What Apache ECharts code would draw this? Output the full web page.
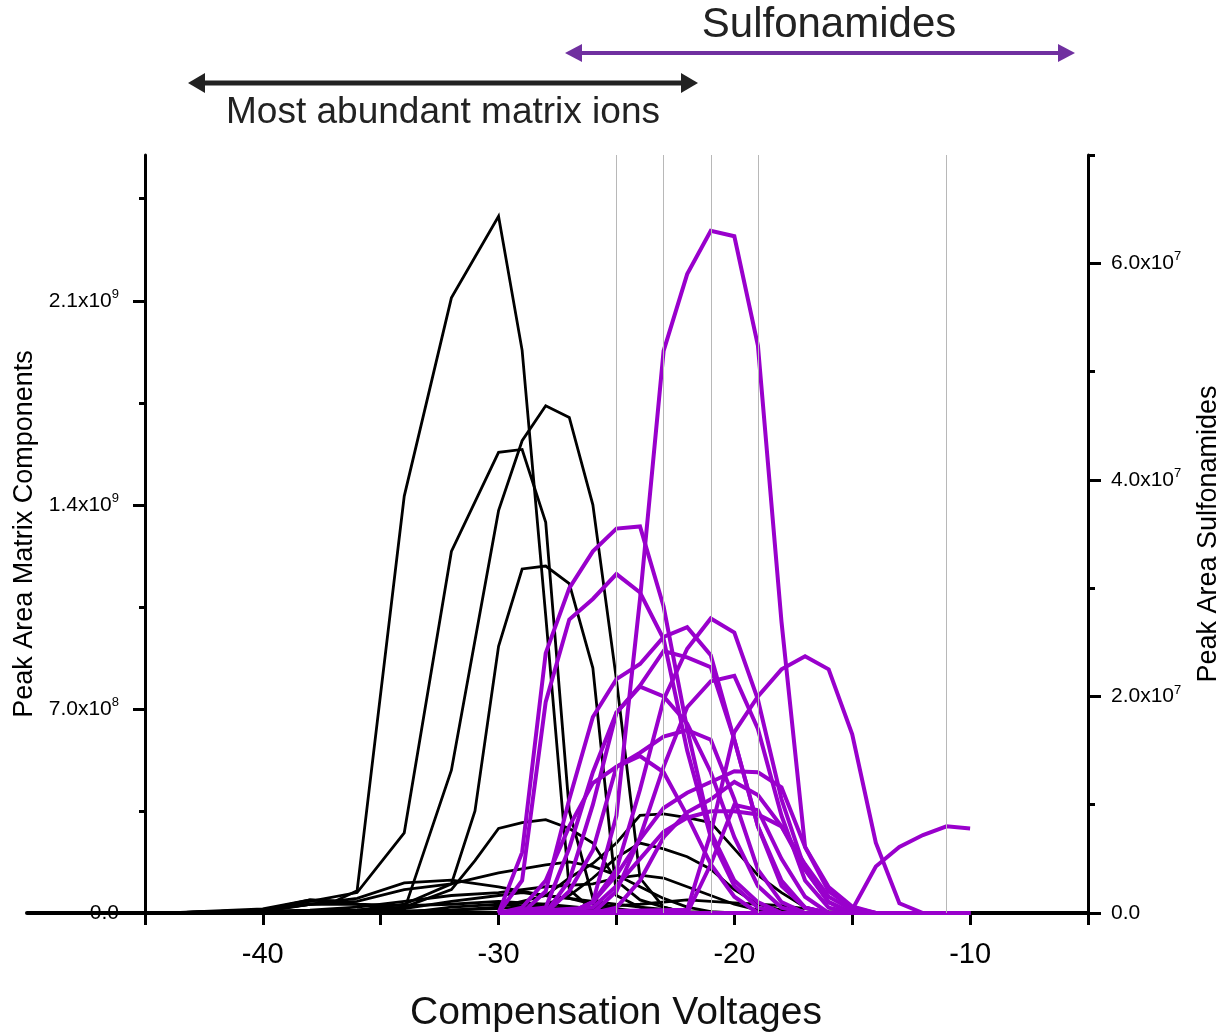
<!DOCTYPE html>
<html>
<head>
<meta charset="utf-8">
<script src="https://cdn.jsdelivr.net/npm/echarts@6/dist/echarts.min.js"></script>
<style>
html,body{margin:0;padding:0;background:#fff;overflow:hidden;}
#chart{width:1220px;height:1033px;}
</style>
</head>
<body>
<div id="chart"></div>
<script>
// ---------- DATA ----------
// Compensation voltage (V) vs peak area. Matrix components in units of 1e8, sulfonamides in units of 1e7.
const MATRIX_UNIT = 1e8;
const SULFA_UNIT = 1e7;

const m01 = [[-50,0],[-44,0],[-40,0.14],[-38,0.45],[-37,0.38],[-36,0.76],[-34,14.3],[-32,21.1],[-30,23.9],[-29,19.3],[-28,10.2],[-27,0.8],[-26,0.1],[-24,0],[-10,0]];
const m02 = [[-50,0],[-44,0],[-40,0.1],[-38,0.3],[-36,0.3],[-34,0.1],[-32,4.9],[-30,13.8],[-29,16.2],[-28,17.4],[-27,17.0],[-26,14.0],[-25,8.0],[-24,1.2],[-23,0.2],[-22,0],[-10,0]];
const m03 = [[-50,0],[-44,0],[-40,0.1],[-38,0.4],[-36,0.7],[-34,2.75],[-32,12.4],[-30,15.8],[-29,15.9],[-28,13.4],[-27,3.5],[-26,0.5],[-25,0.1],[-24,0],[-10,0]];
const m04 = [[-50,0],[-44,0],[-40,0.05],[-36,0.1],[-34,0.3],[-32,1.0],[-31,3.5],[-30,9.15],[-29,11.8],[-28,11.9],[-27,11.3],[-26,8.4],[-25,0.6],[-24,0.2],[-23,0],[-10,0]];
const m05 = [[-50,0],[-44,0],[-40,0.05],[-36,0.1],[-34,0.2],[-32,0.8],[-31,1.8],[-30,2.9],[-29,3.1],[-28,3.2],[-27,2.9],[-26,2.4],[-25,1.1],[-24,0.45],[-23,0.2],[-22,0],[-10,0]];
const m06 = [[-50,0],[-44,0],[-36,0.05],[-32,0.1],[-30,0.2],[-28,0.6],[-27,1.2],[-26,1.7],[-25,2.4],[-24,3.35],[-23,3.4],[-22,3.27],[-21,3.1],[-20,2.2],[-19,1.3],[-18,0.7],[-17,0.2],[-16,0],[-10,0]];
const m07 = [[-50,0],[-44,0],[-34,0.05],[-30,0.15],[-28,0.3],[-27,0.6],[-26,1.2],[-25,1.9],[-24,2.4],[-23,2.2],[-22,1.93],[-21,1.5],[-20,0.8],[-19,0.3],[-18,0.1],[-17,0],[-10,0]];
const m08 = [[-50,0],[-44,0],[-40,0.05],[-38,0.3],[-36,0.4],[-34,0.8],[-32,1.0],[-30,1.38],[-28,1.65],[-27,1.75],[-26,1.6],[-25,1.3],[-24,0.9],[-23,0.5],[-22,0.2],[-21,0.05],[-20,0],[-10,0]];
const m09 = [[-50,0],[-44,0],[-40,0.08],[-38,0.3],[-36,0.5],[-34,1.03],[-32,1.13],[-30,0.9],[-28,0.6],[-26,0.4],[-24,0.2],[-22,0.05],[-20,0],[-10,0]];
const m10 = [[-50,0],[-44,0],[-38,0.1],[-36,0.2],[-34,0.4],[-32,0.6],[-30,0.7],[-28,0.9],[-26,1.0],[-25,1.2],[-24,1.3],[-23,1.2],[-22,0.9],[-21,0.6],[-20,0.3],[-19,0.1],[-18,0],[-10,0]];
const m11 = [[-50,0],[-44,0],[-30,0],[-28,0.1],[-26,0.2],[-24,0.3],[-22,0.45],[-21,0.4],[-20,0.35],[-19,0.3],[-18,0.25],[-17,0.15],[-16,0.05],[-15,0],[-10,0]];
const m12 = [[-50,0],[-44,0],[-40,0.1],[-38,0.45],[-37,0.42],[-36,0.3],[-34,0.25],[-32,0.3],[-30,0.4],[-28,0.3],[-26,0.15],[-24,0.05],[-22,0],[-10,0]];
const m13 = [[-50,0],[-44,0],[-36,0.05],[-34,0.15],[-32,0.4],[-30,0.6],[-29,0.7],[-28,0.6],[-27,0.5],[-26,0.3],[-25,0.15],[-24,0.05],[-23,0],[-10,0]];
const m14 = [[-50,0],[-44,0],[-34,0],[-32,0.2],[-30,0.3],[-28,0.2],[-26,0.1],[-24,0],[-10,0]];

const s01 = [[-30,0],[-27,0],[-26,0.1],[-25,0.9],[-24,2.9],[-23,5.19],[-22,5.9],[-21,6.3],[-20,6.25],[-19,5.24],[-18,2.69],[-17,0.61],[-16,0.24],[-15,0.06],[-14,0],[-10,0]];
const s02 = [[-30,0],[-29,0.56],[-28,2.4],[-27,3.0],[-26,3.34],[-25,3.55],[-24,3.57],[-23,2.83],[-22,1.7],[-21,0.75],[-20,0.3],[-19,0.1],[-18,0],[-10,0]];
const s03 = [[-30,0],[-29,0.3],[-28,1.95],[-27,2.71],[-26,2.9],[-25,3.13],[-24,2.96],[-23,2.53],[-22,1.5],[-21,0.7],[-20,0.25],[-19,0.05],[-18,0],[-10,0]];
const s04 = [[-30,0],[-22,0.03],[-21,0.74],[-20,1.67],[-19,2.0],[-18,2.25],[-17,2.37],[-16,2.25],[-15,1.65],[-14,0.65],[-13,0.09],[-12,0],[-10,0]];
const s05 = [[-30,0],[-16,0],[-15,0.03],[-14,0.43],[-13,0.61],[-12,0.72],[-11,0.8],[-10,0.78]];
const s06 = [[-30,0],[-27,0],[-26,0.1],[-25,0.4],[-24,1.14],[-23,1.97],[-22,2.44],[-21,2.72],[-20,2.59],[-19,1.97],[-18,1.05],[-17,0.4],[-16,0.1],[-15,0],[-10,0]];
const s07 = [[-30,0],[-29,0],[-28,0.2],[-27,1.05],[-26,1.81],[-25,2.16],[-24,2.3],[-23,2.55],[-22,2.64],[-21,2.38],[-20,1.6],[-19,0.8],[-18,0.3],[-17,0.05],[-16,0],[-10,0]];
const s08 = [[-30,0],[-28,0],[-27,0.3],[-26,1.0],[-25,1.85],[-24,2.1],[-23,2.42],[-22,2.36],[-21,2.27],[-20,1.6],[-19,0.8],[-18,0.25],[-17,0.05],[-16,0],[-10,0]];
const s09 = [[-30,0],[-26,0],[-25,0.2],[-24,0.7],[-23,1.35],[-22,1.9],[-21,2.14],[-20,2.19],[-19,1.7],[-18,0.9],[-17,0.3],[-16,0.05],[-15,0],[-10,0]];
const s10 = [[-30,0],[-28,0],[-27,0.2],[-26,0.58],[-25,1.35],[-24,1.48],[-23,1.63],[-22,1.69],[-21,1.6],[-20,1.05],[-19,0.4],[-18,0.1],[-17,0],[-10,0]];
const s11 = [[-30,0],[-28,0.05],[-27,0.6],[-26,1.3],[-25,1.85],[-24,2.09],[-23,2.0],[-22,1.75],[-21,1.3],[-20,0.7],[-19,0.25],[-18,0.05],[-17,0],[-10,0]];
const s12 = [[-30,0],[-27,0],[-26,0.1],[-25,0.35],[-24,0.68],[-23,0.97],[-22,1.11],[-21,1.21],[-20,1.31],[-19,1.30],[-18,1.16],[-17,0.61],[-16,0.2],[-15,0.05],[-14,0],[-10,0]];
const s13 = [[-30,0],[-26,0],[-25,0.05],[-24,0.3],[-23,0.7],[-22,0.93],[-21,1.05],[-20,1.21],[-19,1.09],[-18,0.8],[-17,0.4],[-16,0.1],[-15,0],[-10,0]];
const s14 = [[-30,0],[-26,0.05],[-25,0.25],[-24,0.5],[-23,0.75],[-22,0.88],[-21,0.94],[-20,0.94],[-19,0.91],[-18,0.8],[-17,0.45],[-16,0.15],[-15,0.03],[-14,0],[-10,0]];
const s15 = [[-30,0],[-22,0],[-21,0.45],[-20,1.0],[-19,0.95],[-18,0.5],[-17,0.15],[-16,0],[-10,0]];
const s16 = [[-30,0],[-29,0.05],[-28,0.3],[-27,0.8],[-26,1.2],[-25,1.35],[-24,1.45],[-23,1.3],[-22,0.9],[-21,0.45],[-20,0.15],[-19,0],[-10,0]];

const matrixLines = [m01,m02,m03,m04,m05,m06,m07,m08,m09,m10,m11,m12,m13,m14];
const sulfaLines = [s01,s02,s03,s04,s05,s06,s07,s08,s09,s10,s11,s12,s13,s14,s15,s16];

const refVoltages = [-25,-23,-21,-19,-11];
const xTicks = [-45,-40,-35,-30,-25,-20,-15,-10,-5];
const xTickLabels = [-40,-30,-20,-10];
const leftMajor = [0,7e8,1.4e9,2.1e9];
const leftMinor = [3.5e8,1.05e9,1.75e9,2.45e9];
const rightMajor = [0,2e7,4e7,6e7];
const rightMinor = [1e7,3e7,5e7,7e7];

// ---------- CHART ----------
const FONT = '"Liberation Sans", Arial, sans-serif';
function sci(v){
  if (v === 0) return '{m|0.0}';
  const e = Math.floor(Math.log10(v) + 1e-9);
  const m = (v/Math.pow(10,e)).toFixed(1);
  return '{m|' + m + 'x10}{e|' + e + '}';
}
const richSci = {
  m:{fontSize:21, fontFamily:FONT, color:'#000', lineHeight:26},
  e:{fontSize:13, fontFamily:FONT, color:'#000', lineHeight:15, verticalAlign:'top'}
};

const chart = echarts.init(document.getElementById('chart'), null, {renderer:'canvas', width:1220, height:1033});

const series = [];
series.push({
  type:'line', data:[], xAxisIndex:0, yAxisIndex:0, z:1, silent:true,
  markLine:{silent:true, symbol:'none', animation:false, label:{show:false},
    lineStyle:{color:'#b8b8b8', width:1, type:'solid'},
    data: refVoltages.map(v => ({xAxis:v}))}
});
matrixLines.forEach(d => series.push({
  type:'line', xAxisIndex:0, yAxisIndex:0, z:3, silent:true, symbol:'none', showSymbol:false,
  lineStyle:{color:'#000', width:2.8, join:'miter'},
  data: d.map(p => [p[0], p[1]*MATRIX_UNIT])
}));
sulfaLines.forEach(d => series.push({
  type:'line', xAxisIndex:0, yAxisIndex:1, z:4, silent:true, symbol:'none', showSymbol:false,
  lineStyle:{color:'#9900cc', width:4, join:'miter'},
  data: d.map(p => [p[0], p[1]*SULFA_UNIT])
}));

const option = {
  animation:false,
  backgroundColor:'#fff',
  grid:{left:27, right:132, top:155, bottom:120, containLabel:false, outerBoundsMode:'none'},
  xAxis:[{
    type:'value', min:-50, max:-5,
    axisLine:{show:true, lineStyle:{color:'#000', width:4}},
    axisTick:{show:true, inside:false, length:12, lineStyle:{color:'#000', width:3}, customValues:xTicks},
    axisLabel:{show:true, customValues:xTickLabels, fontSize:29, fontFamily:FONT, color:'#000', margin:27},
    splitLine:{show:false}
  }],
  yAxis:[{
    type:'value', min:0, max:2.6e9, position:'left', offset:-118,
    axisLine:{show:true, onZero:false, lineStyle:{color:'#000', width:3}},
    axisTick:{show:true, length:12, lineStyle:{color:'#000', width:3}, customValues:leftMajor},
    axisLabel:{show:true, customValues:leftMajor, margin:26, formatter:sci, rich:richSci},
    splitLine:{show:false},
    name:'Peak Area Matrix Components', nameLocation:'middle', nameGap:99, nameRotate:90,
    nameTextStyle:{fontSize:27, fontFamily:FONT, color:'#000'}
  },{
    type:'value', min:0, max:7e7, position:'right',
    axisLine:{show:true, onZero:false, lineStyle:{color:'#000', width:3}},
    axisTick:{show:true, length:13, lineStyle:{color:'#000', width:3}, customValues:rightMajor},
    axisLabel:{show:true, customValues:rightMajor, margin:23, formatter:sci, rich:richSci},
    splitLine:{show:false},
    name:'Peak Area Sulfonamides', nameLocation:'middle', nameGap:107, nameRotate:90,
    nameTextStyle:{fontSize:27, fontFamily:FONT, color:'#000'}
  },{
    type:'value', min:0, max:2.6e9, position:'left', offset:-118,
    axisLine:{show:false},
    axisTick:{show:true, length:6, lineStyle:{color:'#000', width:3}, customValues:leftMinor},
    axisLabel:{show:false}, splitLine:{show:false}
  },{
    type:'value', min:0, max:7e7, position:'right',
    axisLine:{show:false},
    axisTick:{show:true, length:7, lineStyle:{color:'#000', width:3}, customValues:rightMinor},
    axisLabel:{show:false}, splitLine:{show:false}
  }],
  graphic:[
    {type:'text', silent:true, style:{text:'Compensation Voltages', x:616, y:1013, textAlign:'center', textVerticalAlign:'middle', font:'39px ' + FONT, fill:'#111'}},
    {type:'text', silent:true, style:{text:'Sulfonamides', x:829, y:25, textAlign:'center', textVerticalAlign:'middle', font:'42px ' + FONT, fill:'#222'}},
    {type:'line', silent:true, shape:{x1:578, y1:53, x2:1062, y2:53}, style:{stroke:'#7030a0', lineWidth:4}},
    {type:'polygon', silent:true, shape:{points:[[565,53],[582,44],[582,62]]}, style:{fill:'#7030a0'}},
    {type:'polygon', silent:true, shape:{points:[[1075,53],[1058,44],[1058,62]]}, style:{fill:'#7030a0'}},
    {type:'line', silent:true, shape:{x1:200, y1:83, x2:686, y2:83}, style:{stroke:'#222', lineWidth:5}},
    {type:'polygon', silent:true, shape:{points:[[188,83],[205,73],[205,93]]}, style:{fill:'#222'}},
    {type:'polygon', silent:true, shape:{points:[[698,83],[681,73],[681,93]]}, style:{fill:'#222'}},
    {type:'text', silent:true, style:{text:'Most abundant matrix ions', x:443, y:113, textAlign:'center', textVerticalAlign:'middle', font:'37px ' + FONT, fill:'#222'}}
  ],
  series: series
};
chart.setOption(option);
</script>
</body>
</html>
